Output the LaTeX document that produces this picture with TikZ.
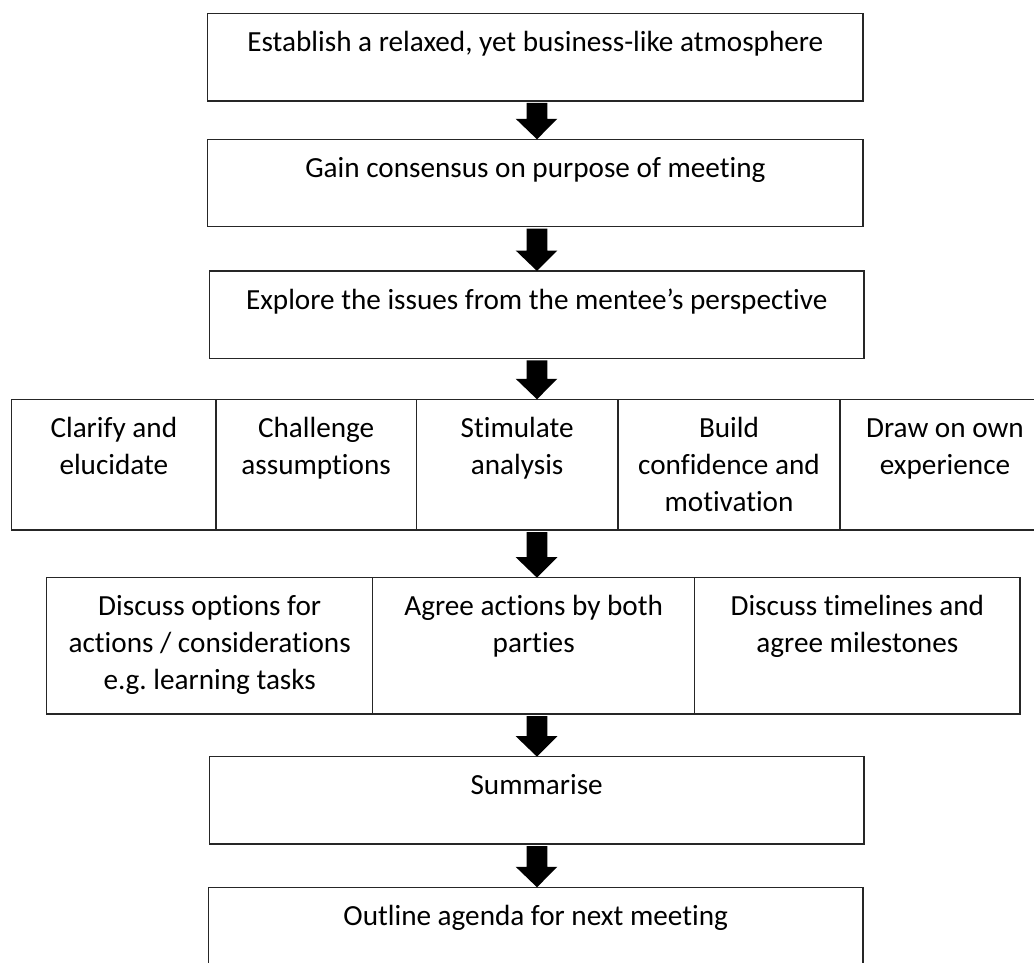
\documentclass[tikz,border=0pt]{standalone}
\usepackage{fontspec}
\setmainfont{Carlito}[Ligatures={NoCommon}]
\frenchspacing
\usetikzlibrary{calc}
\newcommand\mlines[1]{\begin{tabular}[t]{@{}c@{}}#1\end{tabular}}
\newcommand\bigarrow[2]{%
  \fill[black] let \p1=(#1.south), \p2=(#2.north) in
    (526.7pt,\y1-2pt) -- (547.3pt,\y1-2pt) -- (547.3pt,\y2+20.5pt) --
    (557.3pt,\y2+20.5pt) -- (537pt,\y2) -- (515.7pt,\y2+20.5pt) --
    (526.7pt,\y2+20.5pt) -- cycle;}
\begin{document}
\begin{tikzpicture}[x=1pt,y=-1pt,
  box/.style={draw=black!85, line width=1.3pt, anchor=north west, inner sep=0pt, outer sep=0pt},
  txt/.style={anchor=base, inner sep=0pt, outer sep=0pt, font=\fontsize{29.2}{37}\selectfont\frenchspacing}]
\useasboundingbox (0,0) rectangle (1034,963);
\clip (0,0) rectangle (1034,963);
% single boxes
\node[box, minimum width=655.3pt, minimum height=87.3pt] (b1) at (207.7,13.7) {};
\node[box, minimum width=655.3pt, minimum height=87.4pt] (b2) at (207.7,139.3) {};
\node[box, minimum width=654.7pt, minimum height=87.3pt] (b3) at (209.3,271) {};
% row of five
\node[box, minimum width=204.3pt, minimum height=130.7pt] (c1) at (11.7,399.3) {};
\node[box, minimum width=200.3pt, minimum height=130.7pt] (c2) at (216,399.3) {};
\node[box, minimum width=201.7pt, minimum height=130.7pt] (c3) at (416.3,399.3) {};
\node[box, minimum width=222pt, minimum height=130.7pt] (c4) at (618,399.3) {};
\node[box, minimum width=210pt, minimum height=130.7pt] (c5) at (840,399.3) {};
% row of three
\node[box, minimum width=326pt, minimum height=136.3pt] (d1) at (46.7,577.7) {};
\node[box, minimum width=322pt, minimum height=136.3pt] (d2) at (372.7,577.7) {};
\node[box, minimum width=325.3pt, minimum height=136.3pt] (d3) at (694.7,577.7) {};
% last boxes
\node[box, minimum width=654.7pt, minimum height=87.3pt] (sm) at (209.3,756.7) {};
\node[box, minimum width=654.7pt, minimum height=87.3pt] (ol) at (208.3,887.3) {};
% texts
\node[txt] (t1) at ($(b1.north)+(0,38)$) {Establish a relaxed, yet business-like atmosphere};
\node[txt] (t2) at ($(b2.north)+(0,38)$) {Gain consensus on purpose of meeting};
\node[txt] (t3) at ($(b3.north)+(0,38)$) {Explore the issues from the mentee’s perspective};
\node[txt] (tc1) at ($(c1.north)+(0,38)$) {\mlines{Clarify and\\elucidate}};
\node[txt] (tc2) at ($(c2.north)+(0,38)$) {\mlines{Challenge\\assumptions}};
\node[txt] (tc3) at ($(c3.north)+(0,38)$) {\mlines{Stimulate\\analysis}};
\node[txt] (tc4) at ($(c4.north)+(0,38)$) {\mlines{Build\\confidence and\\motivation}};
\node[txt] (tc5) at ($(c5.north)+(0,38)$) {\mlines{Draw on own\\experience}};
\node[txt] (td1) at ($(d1.north)+(0,38)$) {\mlines{Discuss options for\\actions / considerations\\e.g. learning tasks}};
\node[txt] (td2) at ($(d2.north)+(0,38)$) {\mlines{Agree actions by both\\parties}};
\node[txt] (td3) at ($(d3.north)+(0,38)$) {\mlines{Discuss timelines and\\agree milestones}};
\node[txt] (tsm) at ($(sm.north)+(0,38)$) {Summarise};
\node[txt] (tol) at ($(ol.north)+(0,38)$) {Outline agenda for next meeting};
% arrows
\bigarrow{b1}{b2}
\bigarrow{b2}{b3}
\bigarrow{b3}{c3}
\bigarrow{c3}{d2}
\bigarrow{d2}{sm}
\bigarrow{sm}{ol}
\end{tikzpicture}
\end{document}
